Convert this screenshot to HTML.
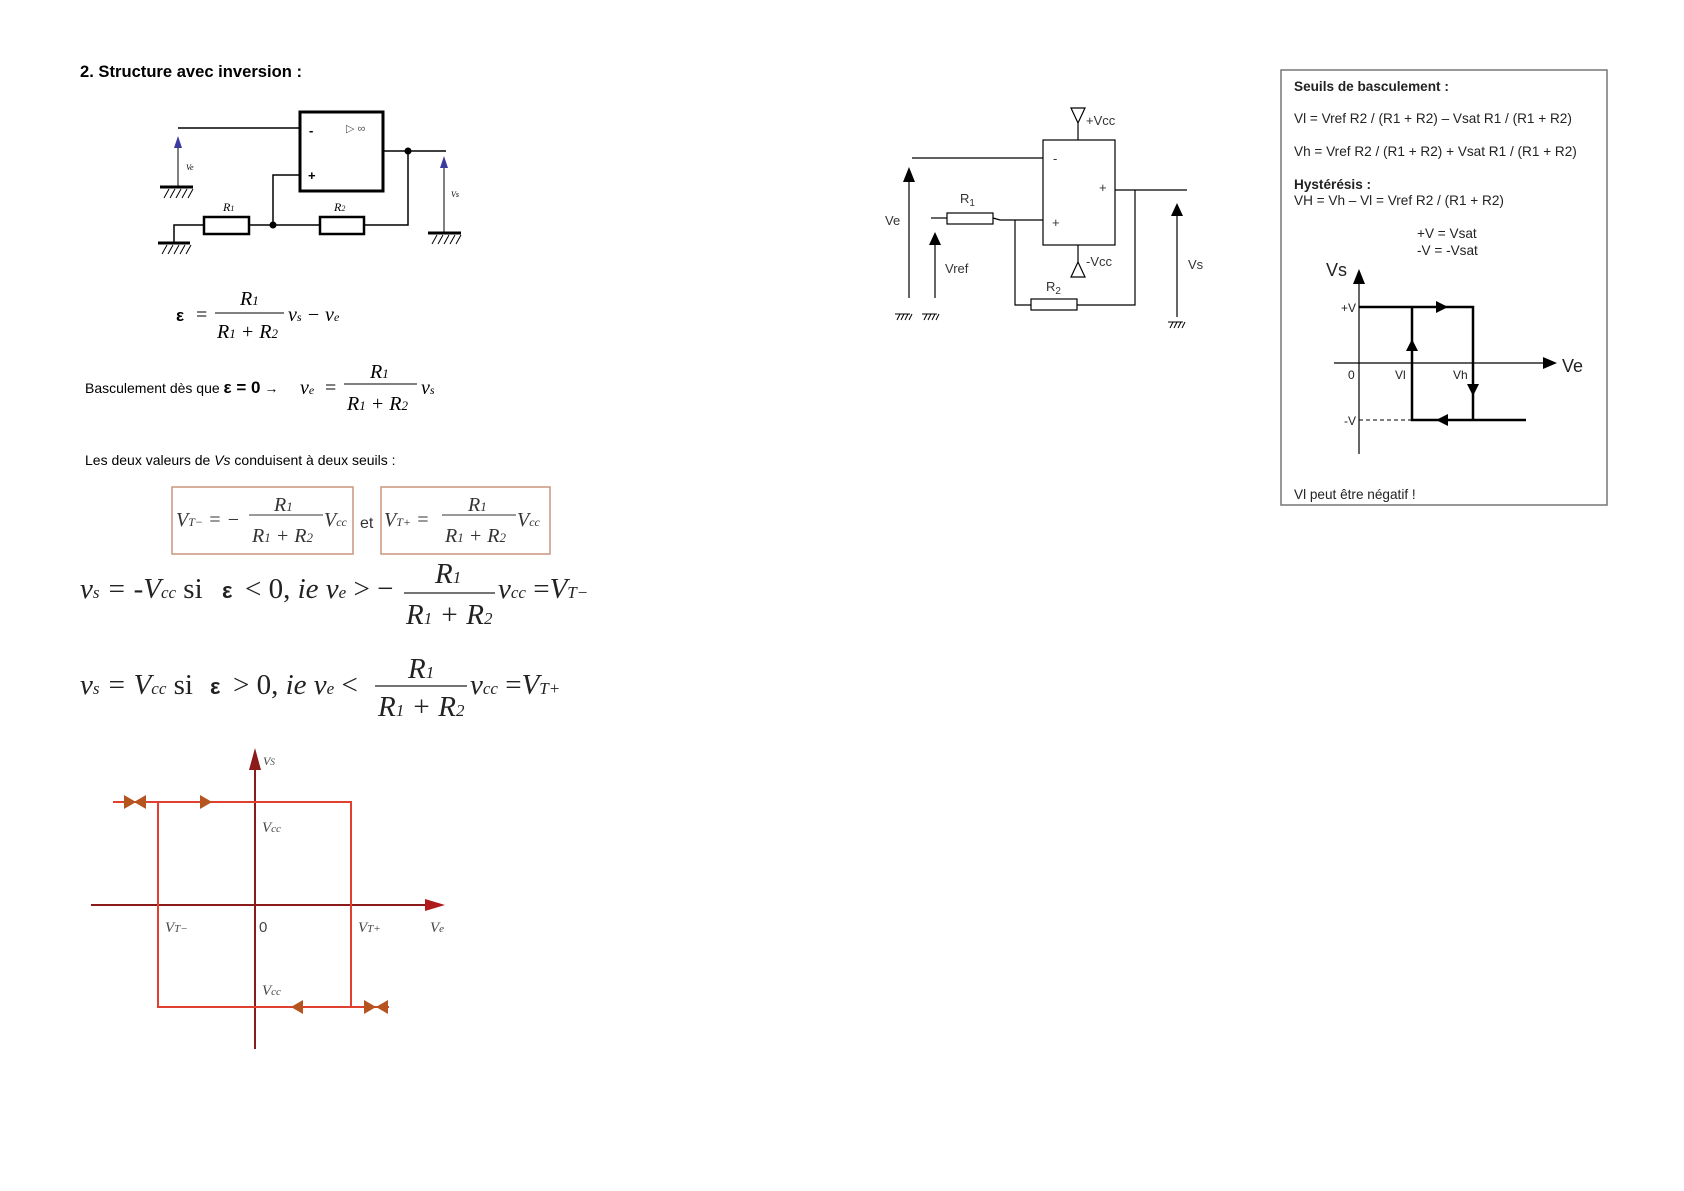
<!DOCTYPE html>
<html><head><meta charset="utf-8"><style>
html,body{margin:0;padding:0;background:#fff}
svg{display:block}
.s{font-family:"Liberation Sans",sans-serif}
.m{font-family:"Liberation Serif",serif;font-style:italic}
</style></head><body>
<svg width="1684" height="1191" viewBox="0 0 1684 1191" xmlns="http://www.w3.org/2000/svg">
<rect width="1684" height="1191" fill="#fff"/>
<text x="80" y="77" class="s" font-size="17" font-weight="bold" textLength="222" lengthAdjust="spacingAndGlyphs">2. Structure avec inversion :</text>

<!-- left circuit -->
<g stroke="#000" fill="none" stroke-width="1.5">
<rect x="300" y="112" width="83" height="79" stroke-width="3"/>
<path d="M178 128H300"/>
<path d="M383 151H446"/>
<path d="M408 151V225H364"/>
<path d="M320 225H249"/>
<path d="M273 225V175H300"/>
<path d="M204 225H174V243"/>
<rect x="204" y="217" width="45" height="17" stroke-width="2.5"/>
<rect x="320" y="217" width="44" height="17" stroke-width="2.5"/>
<path d="M160 187H193" stroke-width="3"/>
<path d="M158 243H190" stroke-width="3"/>
<path d="M428 233H461" stroke-width="3"/>
<path d="M164 198l5-9M170 198l5-9M176 198l5-9M182 198l5-9M188 198l5-9" stroke-width="1"/>
<path d="M162 254l5-9M168 254l5-9M174 254l5-9M180 254l5-9M186 254l5-9" stroke-width="1"/>
<path d="M432 244l5-9M438 244l5-9M444 244l5-9M450 244l5-9M456 244l5-9" stroke-width="1"/>
<path d="M178 187V146" stroke-width="1"/>
<path d="M444 233V166" stroke-width="1"/>
</g>
<path d="M174 148L178 136L182 148z" fill="#3a3aa0"/>
<path d="M440 168L444 156L448 168z" fill="#3a3aa0"/>
<circle cx="408" cy="151" r="3.5"/><circle cx="273" cy="225" r="3.5"/>
<text x="309" y="135" class="s" font-size="13" font-weight="bold">-</text>
<text x="308" y="180" class="s" font-size="13" font-weight="bold">+</text>
<text x="346" y="132" class="s" font-size="11" fill="#555">▷ ∞</text>
<text x="186" y="170" class="m" font-size="8">Ve</text>
<text x="451" y="197" class="m" font-size="8">Vs</text>
<text x="223" y="211" class="m" font-size="12">R<tspan font-size="8">1</tspan></text>
<text x="334" y="211" class="m" font-size="12">R<tspan font-size="8">2</tspan></text>

<!-- formula 1 -->
<g class="m" font-size="20">
<text x="176" y="321" font-style="normal" font-weight="bold" class="s" font-size="17">ε</text>
<text x="196" y="321" font-style="normal">=</text>
<text x="240" y="305">R<tspan font-size="13">1</tspan></text>
<line x1="215" y1="313" x2="284" y2="313" stroke="#000"/>
<text x="217" y="338">R<tspan font-size="13">1</tspan> + R<tspan font-size="13">2</tspan></text>
<text x="288" y="321">v<tspan font-size="12">s</tspan> − v<tspan font-size="12">e</tspan></text>
</g>
<text x="85" y="393" class="s" font-size="14">Basculement dès que <tspan font-weight="bold" font-size="17">ε = 0</tspan> → </text>
<g class="m" font-size="20">
<text x="300" y="394">v<tspan font-size="12">e</tspan></text>
<text x="325" y="394" font-style="normal">=</text>
<text x="370" y="378">R<tspan font-size="13">1</tspan></text>
<line x1="344" y1="384" x2="417" y2="384" stroke="#000"/>
<text x="347" y="410">R<tspan font-size="13">1</tspan> + R<tspan font-size="13">2</tspan></text>
<text x="421" y="394">v<tspan font-size="12">s</tspan></text>
</g>
<text x="85" y="465" class="s" font-size="14">Les deux valeurs de <tspan font-style="italic">Vs</tspan> conduisent à deux seuils :</text>

<rect x="172" y="487" width="181" height="67" fill="none" stroke="#c9967c" stroke-width="1.5"/>
<rect x="381" y="487" width="169" height="67" fill="none" stroke="#c9967c" stroke-width="1.5"/>
<g class="m" font-size="20" fill="#333">
<text x="176" y="526">V<tspan font-size="12">T−</tspan> = −</text>
<text x="274" y="511">R<tspan font-size="13">1</tspan></text>
<line x1="249" y1="515" x2="323" y2="515" stroke="#333"/>
<text x="252" y="542">R<tspan font-size="13">1</tspan> + R<tspan font-size="13">2</tspan></text>
<text x="324" y="526">V<tspan font-size="12">cc</tspan></text>
<text x="360" y="528" font-style="normal" class="s" font-size="16">et</text>
<text x="384" y="526">V<tspan font-size="12">T+</tspan> =</text>
<text x="468" y="511">R<tspan font-size="13">1</tspan></text>
<line x1="442" y1="515" x2="516" y2="515" stroke="#333"/>
<text x="445" y="542">R<tspan font-size="13">1</tspan> + R<tspan font-size="13">2</tspan></text>
<text x="517" y="526">V<tspan font-size="12">cc</tspan></text>
</g>

<g class="m" font-size="29" fill="#222">
<text x="80" y="598">v<tspan font-size="17">s</tspan> = -V<tspan font-size="17">cc</tspan> <tspan font-style="normal">si</tspan></text>
<text x="222" y="598" font-style="normal" class="s" font-weight="bold" font-size="22">ε</text>
<text x="245" y="598"><tspan font-style="normal">&lt; 0,</tspan> ie v<tspan font-size="17">e</tspan> <tspan font-style="normal">&gt; −</tspan></text>
<text x="435" y="583">R<tspan font-size="17">1</tspan></text>
<line x1="404" y1="593" x2="495" y2="593" stroke="#222" stroke-width="1.3"/>
<text x="406" y="624">R<tspan font-size="17">1</tspan> + R<tspan font-size="17">2</tspan></text>
<text x="498" y="598">v<tspan font-size="17">cc</tspan> <tspan font-style="normal">=</tspan>V<tspan font-size="17">T−</tspan></text>

<text x="80" y="694">v<tspan font-size="17">s</tspan> = V<tspan font-size="17">cc</tspan> <tspan font-style="normal">si</tspan></text>
<text x="210" y="694" font-style="normal" class="s" font-weight="bold" font-size="22">ε</text>
<text x="233" y="694"><tspan font-style="normal">&gt; 0,</tspan> ie v<tspan font-size="17">e</tspan> <tspan font-style="normal">&lt;</tspan></text>
<text x="408" y="678">R<tspan font-size="17">1</tspan></text>
<line x1="375" y1="686" x2="467" y2="686" stroke="#222" stroke-width="1.3"/>
<text x="378" y="716">R<tspan font-size="17">1</tspan> + R<tspan font-size="17">2</tspan></text>
<text x="470" y="694">v<tspan font-size="17">cc</tspan> <tspan font-style="normal">=</tspan>V<tspan font-size="17">T+</tspan></text>
</g>

<!-- bottom-left hysteresis -->
<g stroke-width="2" fill="none">
<path d="M255 1049V756" stroke="#8b1a1a"/>
<path d="M91 905H437" stroke="#8b1a1a"/>
<path d="M113 802H351V1007H158V802" stroke="#e04030"/>
<path d="M351 1007H389" stroke="#e04030"/>
</g>
<path d="M249 770L255 748L261 770z" fill="#8b1a1a"/>
<path d="M425 899L445 905L425 911z" fill="#b01a1a"/>
<g fill="#b5541e">
<path d="M124 795L136 802L124 809z M146 795L134 802L146 809z"/>
<path d="M200 795L212 802L200 809z"/>
<path d="M303 1000L291 1007L303 1014z"/>
<path d="M364 1000L376 1007L364 1014z M388 1000L376 1007L388 1014z"/>
</g>
<g class="m" font-size="15" fill="#444">
<text x="263" y="765" font-size="12">V<tspan font-size="9">S</tspan></text>
<text x="262" y="832">V<tspan font-size="11">cc</tspan></text>
<text x="165" y="932">V<tspan font-size="11">T−</tspan></text>
<text x="259" y="932" class="s" font-style="normal">0</text>
<text x="358" y="932">V<tspan font-size="11">T+</tspan></text>
<text x="430" y="932">V<tspan font-size="11">e</tspan></text>
<text x="262" y="995">V<tspan font-size="11">cc</tspan></text>
</g>

<!-- middle circuit -->
<g stroke="#000" fill="none" stroke-width="1.2">
<rect x="1043" y="140" width="72" height="105"/>
<path d="M912 158H1043"/>
<path d="M1078 123V140"/>
<path d="M1071 108H1085L1078 123z"/>
<path d="M1078 245V262"/>
<path d="M1071 277H1085L1078 262z"/>
<path d="M931 218H947"/>
<rect x="947" y="213" width="46" height="11"/>
<path d="M993 218L1000 220H1043"/>
<path d="M1015 220V305H1031"/>
<rect x="1031" y="299" width="46" height="11"/>
<path d="M1077 305H1135V190"/>
<path d="M1115 190H1187"/>
<path d="M909 298V180"/>
<path d="M935 298V243"/>
<path d="M1177 317V214"/>
</g>
<path d="M903 182L909 167L915 182z M929 245L935 232L941 245z M1171 216L1177 203L1183 216z"/>
<g class="s" font-size="13" fill="#333">
<text x="1086" y="125">+Vcc</text>
<text x="1086" y="266">-Vcc</text>
<text x="1053" y="163">-</text>
<text x="1052" y="227">+</text>
<text x="1099" y="192">+</text>
<text x="960" y="203">R<tspan font-size="10" dy="3">1</tspan></text>
<text x="1046" y="291">R<tspan font-size="10" dy="3">2</tspan></text>
<text x="885" y="225">Ve</text>
<text x="945" y="273">Vref</text>
<text x="1188" y="269">Vs</text>
</g>
<g stroke="#000" stroke-width="1">
<path d="M895 314H910M897 320l3-6M901 320l3-6M905 320l3-6M909 320l3-6"/>
<path d="M922 314H937M924 320l3-6M928 320l3-6M932 320l3-6M936 320l3-6"/>
<path d="M1168 322H1183M1170 328l3-6M1174 328l3-6M1178 328l3-6M1182 328l3-6"/>
</g>

<!-- right box -->
<rect x="1281" y="70" width="326" height="435" fill="none" stroke="#777" stroke-width="1.5"/>
<g class="s" font-size="13.6" fill="#222">
<text x="1294" y="91" font-weight="bold">Seuils de basculement :</text>
<text x="1294" y="123">Vl = Vref R2 / (R1 + R2) – Vsat R1 / (R1 + R2)</text>
<text x="1294" y="156">Vh = Vref R2 / (R1 + R2) + Vsat R1 / (R1 + R2)</text>
<text x="1294" y="189" font-weight="bold">Hystérésis :</text>
<text x="1294" y="205">VH = Vh – Vl = Vref R2 / (R1 + R2)</text>
<text x="1417" y="238">+V = Vsat</text>
<text x="1417" y="255">-V = -Vsat</text>
<text x="1326" y="276" font-size="18">Vs</text>
<text x="1562" y="372" font-size="18">Ve</text>
<text x="1356" y="312" text-anchor="end" font-size="12">+V</text>
<text x="1348" y="379" font-size="12">0</text>
<text x="1395" y="379" font-size="12">Vl</text>
<text x="1453" y="379" font-size="12">Vh</text>
<text x="1356" y="425" text-anchor="end" font-size="12">-V</text>
<text x="1294" y="499">Vl peut être négatif !</text>
</g>
<g stroke="#000" fill="none">
<path d="M1359 454V282" stroke-width="1.2"/>
<path d="M1334 363H1545" stroke-width="1.2"/>
<path d="M1359 307H1473V420M1526 420H1412V307" stroke-width="2.5"/>
<path d="M1359 420H1412" stroke-dasharray="4 3" stroke-width="1"/>
</g>
<path d="M1353 284L1359 269L1365 284z M1543 357L1557 363L1543 369z"/>
<path d="M1436 301L1448 307L1436 313z M1406 351L1412 339L1418 351z M1467 384L1473 396L1479 384z M1448 414L1436 420L1448 426z"/>
</svg>
</body></html>
